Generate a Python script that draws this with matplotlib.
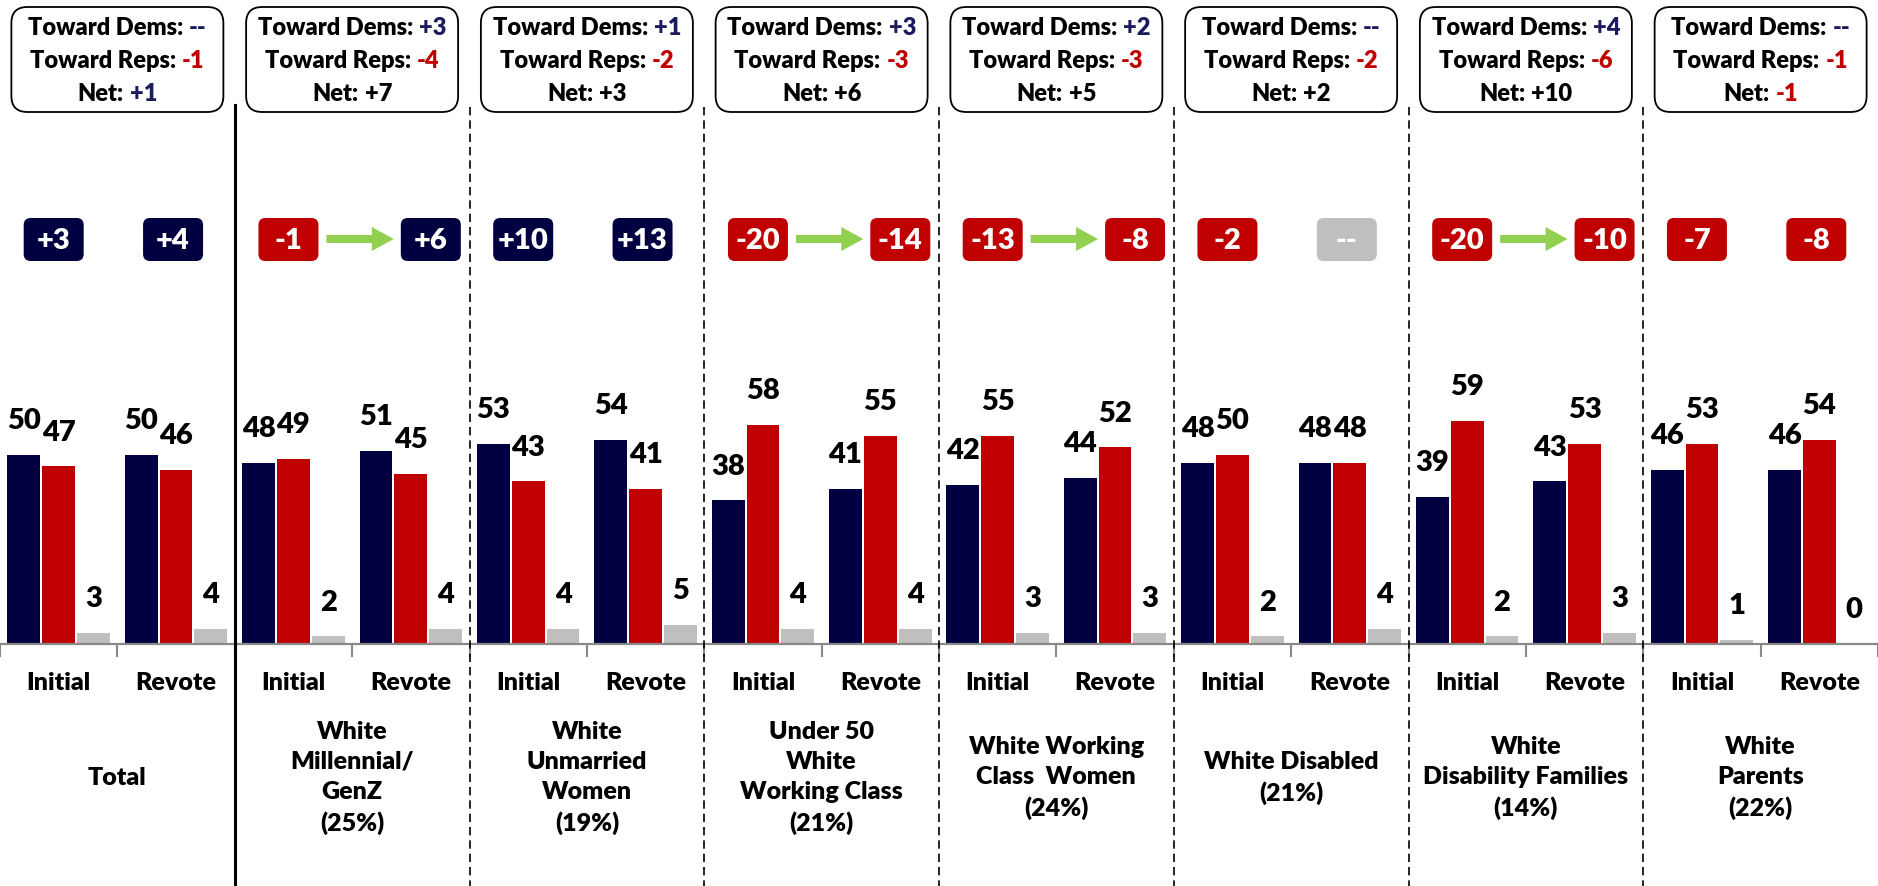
import numpy as np
import matplotlib
matplotlib.use("Agg")
import matplotlib.pyplot as plt
from matplotlib.patches import FancyBboxPatch, FancyArrow

plt.rcParams['font.family'] = ['Lato', 'DejaVu Sans']
plt.rcParams['font.weight'] = 'heavy'

groups = ["Total", "White\nMillennial/\nGenZ\n(25%)", "White\nUnmarried\nWomen\n(19%)",
          "Under 50\nWhite\nWorking Class\n(21%)", "White Working\nClass  Women\n(24%)",
          "White Disabled\n(21%)", "White\nDisability Families\n(14%)", "White\nParents\n(22%)"]
rounds = ["Initial", "Revote"]

dem_initial = [50, 48, 53, 38, 42, 48, 39, 46]
rep_initial = [47, 49, 43, 58, 55, 50, 59, 53]
oth_initial = [3, 2, 4, 4, 3, 2, 2, 1]
dem_revote = [50, 51, 54, 41, 44, 48, 43, 46]
rep_revote = [46, 45, 41, 55, 52, 48, 53, 54]
oth_revote = [4, 4, 5, 4, 3, 4, 3, 0]

toward_dems = ["--", "+3", "+1", "+3", "+2", "--", "+4", "--"]
toward_reps = ["-1", "-4", "-2", "-3", "-3", "-2", "-6", "-1"]
net_shift = ["+1", "+7", "+3", "+6", "+5", "+2", "+10", "-1"]
net_color = ["navy", "black", "black", "black", "black", "black", "black", "red"]

NAVY = '#000040'
RED = '#C00000'
GREY = '#BFBFBF'
GREEN = '#92D050'
TXT = {'navy': '#1B1B5E', 'red': '#C00000', 'black': 'black'}

W, H = 1878, 886
base = 644   # pixel row of the baseline
ppu = 3.78   # pixels per point of share

fig = plt.figure(figsize=(W / 100, H / 100), dpi=100)
ax = fig.add_axes([0, 1 - base / H, 1, base / H])
ax.patch.set_alpha(0)

n = len(groups) * 2
x = np.arange(n)
dem = np.column_stack([dem_initial, dem_revote]).ravel()
rep = np.column_stack([rep_initial, rep_revote]).ravel()
oth = np.column_stack([oth_initial, oth_revote]).ravel()

bw, off = 0.28, 0.297
b1 = ax.bar(x - off, dem, bw, color=NAVY)
b2 = ax.bar(x, rep, bw, color=RED)
b3 = ax.bar(x + off, oth, bw, color=GREY)
for b in (b1, b2, b3):
    ax.bar_label(b, padding=15, fontsize=21)

ax.set_xlim(-0.5, n - 0.5)
ax.set_ylim(0, base / ppu)
for s in ['top', 'right', 'left']:
    ax.spines[s].set_visible(False)
ax.spines['bottom'].set_color('#898989')
ax.spines['bottom'].set_linewidth(1.6)
ax.set_yticks([])
ax.set_xticks(x, rounds * len(groups), fontsize=18)
ax.tick_params(axis='x', which='major', length=0, pad=20)
ax.set_xticks(np.arange(n + 1) - 0.5, minor=True)
ax.tick_params(axis='x', which='minor', length=9, width=1.5, color='#898989')

# overlay in pixel units for boxes, badges and separators
ov = fig.add_axes([0, 0, 1, 1], zorder=3)
ov.set_xlim(0, W)
ov.set_ylim(H, 0)
ov.axis('off')
catw = W / n
renderer = fig.canvas.get_renderer()


def two_tone(cx, y, left, right, rcolor, size=17):
    t1 = ov.text(0, y, left, fontsize=size, ha='left', va='center')
    t2 = ov.text(0, y, right, fontsize=size, ha='left', va='center', color=rcolor)
    w1 = t1.get_window_extent(renderer).width
    w2 = t2.get_window_extent(renderer).width
    gap = 6
    start = cx - (w1 + gap + w2) / 2
    t1.set_x(start)
    t2.set_x(start + w1 + gap)


for g in range(len(groups)):
    cx = (2 * g + 1) * catw
    ov.add_patch(FancyBboxPatch((cx - 106, 7), 212, 105,
                                boxstyle='round,pad=0,rounding_size=16',
                                fc='white', ec='black', lw=1.3))
    two_tone(cx, 28, 'Toward Dems:', toward_dems[g], TXT['navy'])
    two_tone(cx, 61, 'Toward Reps:', toward_reps[g], TXT['red'])
    two_tone(cx, 94, 'Net:', net_shift[g], TXT[net_color[g]])

    ov.text(cx, 778, groups[g], ha='center', va='center', fontsize=18,
            linespacing=1.45, multialignment='center')

    m0 = dem_initial[g] - rep_initial[g]
    m1 = dem_revote[g] - rep_revote[g]
    arrow = (m1 - m0) >= 5
    for k, m in enumerate([m0, m1]):
        bx = (2 * g + k + 0.5) * catw
        if k == 0:
            bx -= 5
        else:
            bx += 20 if arrow else -3
        fc = NAVY if m > 0 else (RED if m < 0 else GREY)
        lab = f"{m:+d}" if m != 0 else "--"
        ov.add_patch(FancyBboxPatch((bx - 30, 218), 60, 43,
                                    boxstyle='round,pad=0,rounding_size=7',
                                    fc=fc, ec='none'))
        ov.text(bx, 241, lab, ha='center', va='center', fontsize=21,
                color='white')
    if arrow:
        x0 = (2 * g + 0.5) * catw + 33
        x1 = (2 * g + 1.5) * catw - 17
        ov.add_patch(FancyArrow(x0, 239, x1 - x0, 0, width=8, head_width=24,
                                head_length=22, length_includes_head=True,
                                color=GREEN, lw=0))

    if g > 0:
        xb = 2 * g * catw
        if g == 1:
            ov.plot([xb, xb], [105, H], color='black', lw=2.2)
        else:
            ov.plot([xb, xb], [107, H], color='black', lw=1.2, ls=(0, (5, 3)))

fig.savefig('out.png', dpi=100)
